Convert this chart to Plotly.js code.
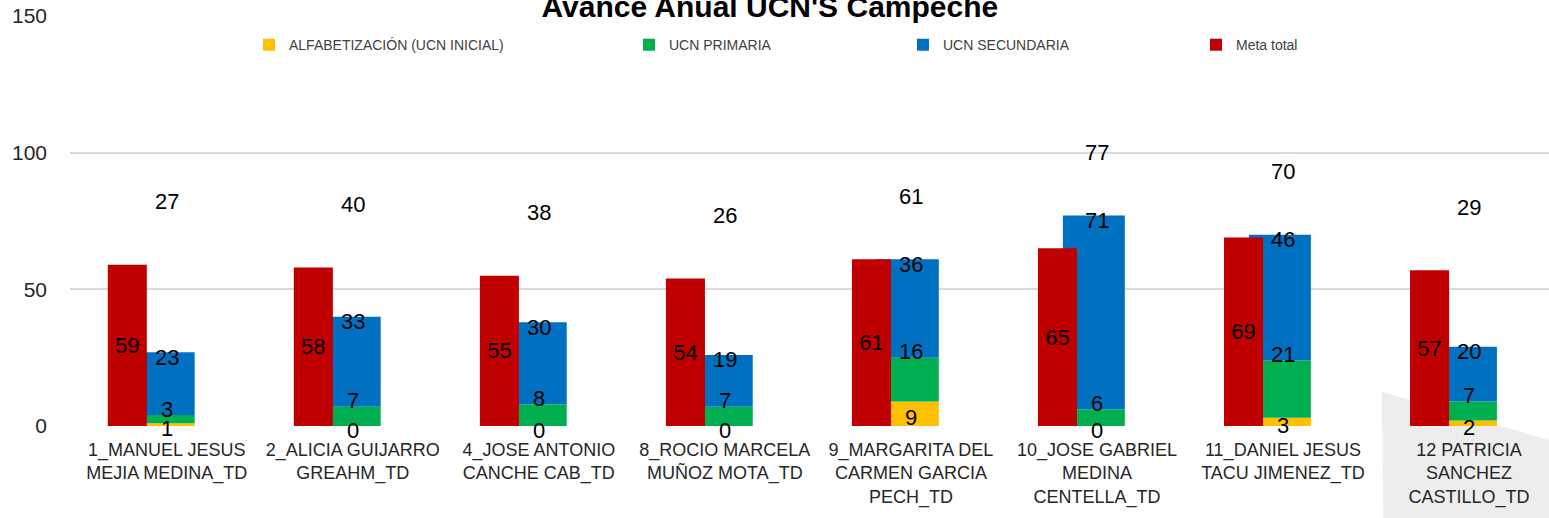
<!DOCTYPE html>
<html>
<head>
<meta charset="utf-8">
<script src="https://cdn.plot.ly/plotly-3.0.1.min.js"></script>
<style>
  body { margin: 0; background: #fff; }
  #chart { width: 1549px; height: 518px; }
</style>
</head>
<body>
<div id="chart"></div>
<script>
const categories = [
  '1_MANUEL JESUS<br>MEJIA MEDINA_TD',
  '2_ALICIA GUIJARRO<br>GREAHM_TD',
  '4_JOSE ANTONIO<br>CANCHE CAB_TD',
  '8_ROCIO MARCELA<br>MUÑOZ MOTA_TD',
  '9_MARGARITA DEL<br>CARMEN GARCIA<br>PECH_TD',
  '10_JOSE GABRIEL<br>MEDINA<br>CENTELLA_TD',
  '11_DANIEL JESUS<br>TACU JIMENEZ_TD',
  '12 PATRICIA<br>SANCHEZ<br>CASTILLO_TD'
];
const alfabetizacion = [1, 0, 0, 0, 9, 0, 3, 2];
const primaria = [3, 7, 8, 7, 16, 6, 21, 7];
const secundaria = [23, 33, 30, 19, 36, 71, 46, 20];
const metaTotal = [59, 58, 55, 54, 61, 65, 69, 57];

const FONT = 'Liberation Sans, Arial, sans-serif';
const idx = categories.map((_, i) => i);

// bases for the stacked column (overlay mode so the red column can sit beside it)
const basePrim = alfabetizacion.slice();
const baseSec = alfabetizacion.map((v, i) => v + primaria[i]);
const totals = baseSec.map((v, i) => v + secundaria[i]);

const stackW = 0.333, stackOff = -0.183;

function stackTrace(name, vals, base, color, legend) {
  return {
    type: 'bar', name: name, x: idx, y: vals, base: base,
    width: stackW, offset: stackOff,
    marker: { color: color, line: { width: 0 } },
    legend: legend, showlegend: true, hoverinfo: 'skip'
  };
}

const traces = [
  stackTrace('ALFABETIZACIÓN (UCN INICIAL)', alfabetizacion, idx.map(() => 0), '#FFC000', 'legend'),
  stackTrace('UCN PRIMARIA', primaria, basePrim, '#00B050', 'legend2'),
  stackTrace('UCN SECUNDARIA', secundaria, baseSec, '#0070C0', 'legend3'),
  {
    type: 'bar', name: 'Meta total', x: idx, y: metaTotal,
    width: 0.21, offset: -0.317,
    marker: { color: '#C00000', line: { width: 0 } },
    text: metaTotal.map(String), textposition: 'inside', insidetextanchor: 'middle',
    textangle: 0, constraintext: 'none',
    textfont: { family: FONT, size: 22, color: '#000' },
    legend: 'legend4', showlegend: true, hoverinfo: 'skip'
  }
];

const annotations = [];
const lab = { family: FONT, size: 22, color: '#000' };
idx.forEach(i => {
  annotations.push({ x: i, y: alfabetizacion[i] / 2, text: String(alfabetizacion[i]), showarrow: false,
    yanchor: 'middle', yshift: -4, font: lab });
  annotations.push({ x: i, y: basePrim[i] + primaria[i], text: String(primaria[i]), showarrow: false,
    yanchor: 'middle', yshift: 6, font: lab });
  annotations.push({ x: i, y: totals[i], text: String(secundaria[i]), showarrow: false,
    yanchor: 'middle', yshift: -5, font: lab });
  annotations.push({ x: i, y: Math.max(totals[i], metaTotal[i]) + 23, text: String(totals[i]), showarrow: false,
    yanchor: 'middle', font: lab });
});

function legendAt(x) {
  return {
    visible: true, orientation: 'h', x: x, xanchor: 'left', y: 0.929, yanchor: 'middle',
    bgcolor: 'rgba(0,0,0,0)', itemwidth: 30,
    font: { family: FONT, size: 14, color: '#404040' }
  };
}

const layout = {
  width: 1549, height: 518, autosize: false,
  margin: { l: 70, r: 0, t: 16, b: 92 },
  paper_bgcolor: '#fff', plot_bgcolor: 'rgba(0,0,0,0)',
  barmode: 'overlay',
  showlegend: true,
  title: {
    text: "Avance Anual UCN'S Campeche",
    font: { family: FONT, size: 30, color: '#000', weight: 'bold' },
    x: 0.497, xanchor: 'center', yref: 'container', y: 0.988, yanchor: 'middle'
  },
  xaxis: {
    type: 'linear', range: [-0.52, 7.43],
    tickmode: 'array', tickvals: idx, ticktext: categories,
    showgrid: false, zeroline: false, showline: false, ticks: '',
    tickfont: { family: FONT, size: 18, color: '#262626' },
    ticklabelstandoff: 11
  },
  yaxis: {
    range: [0, 150], tickvals: [0, 50, 100, 150],
    showgrid: true, gridcolor: '#D9D9D9', gridwidth: 2,
    zeroline: false, showline: false, ticks: '',
    tickfont: { family: FONT, size: 21, color: '#262626' },
    ticklabelstandoff: 22
  },
  legend: legendAt((249 - 70) / 1479),
  legend2: legendAt((629 - 70) / 1479),
  legend3: legendAt((903 - 70) / 1479),
  legend4: legendAt((1196 - 70) / 1479),
  annotations: annotations,
  shapes: [{
    type: 'path', xref: 'paper', yref: 'paper', layer: 'below',
    path: 'M0.887,0.083 L1,-0.034 L1,-0.225 L0.888,-0.225 Z',
    fillcolor: '#EDEDED', line: { width: 0 }
  }]
};

Plotly.newPlot('chart', traces, layout, { staticPlot: true });
</script>
</body>
</html>
